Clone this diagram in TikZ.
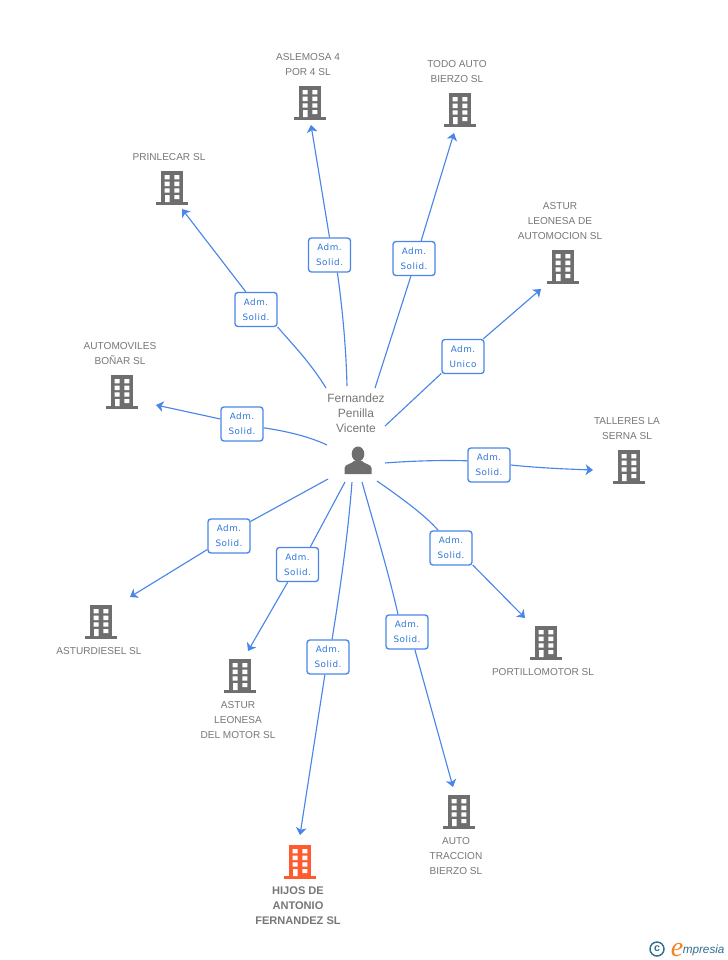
\documentclass[tikz,border=0pt]{standalone}
\usepackage{fontspec}
\setmainfont{Liberation Sans}
\newfontfamily\labfont[LetterSpace=6]{DejaVu Sans}
\newfontfamily\serifit{Liberation Serif}
\usetikzlibrary{arrows.meta,backgrounds,calc}
\definecolor{linkblue}{HTML}{4A86E8}
\definecolor{labelblue}{HTML}{2F76DC}
\definecolor{txtgray}{HTML}{777777}
\definecolor{icongray}{HTML}{6E6E6E}
\definecolor{iconorange}{HTML}{FF5A30}
\definecolor{logoteal}{HTML}{2F6F8F}
\definecolor{logoorange}{HTML}{F58220}
\tikzset{
  x=0.75pt,y=-0.75pt,
  link/.style={draw=linkblue,line width=0.85pt},
  linkarrow/.style={link,-{Stealth[length=5.5pt,width=8pt,inset=1.5pt]}},
  adm/.style={draw=linkblue,line width=1pt,fill=white,rounded corners=2.2pt,minimum width=31.5pt,minimum height=25.5pt,inner sep=0pt,align=center,text=labelblue,font=\labfont\fontsize{6.6}{11.25}\selectfont},
  captxt/.style={align=center,inner sep=0pt,text=txtgray,font=\fontsize{7.55}{11.25}\selectfont},
  boldcap/.style={captxt,font=\bfseries\fontsize{8.3}{11.25}\selectfont},
  hubcap/.style={captxt,font=\fontsize{9}{11.25}\selectfont},
  pics/bldg/.style={code={
    \fill[#1] (-11,-34) rectangle (11,-3);
    \fill[#1] (-16,-3) rectangle (16,0);
    \fill[white] (-7.3,-30) rectangle (-2.3,-25.7) (2.3,-30) rectangle (7.3,-25.7)
      (-7.3,-23.3) rectangle (-2.3,-19) (2.3,-23.3) rectangle (7.3,-19)
      (-7.3,-16.7) rectangle (-2.3,-12.3) (2.3,-16.7) rectangle (7.3,-12.3)
      (-7,-10) rectangle (-2.5,-3) (2.3,-10) rectangle (7.3,-6);
  }},
  pics/personicon/.style={code={
    \fill[icongray] (0,-20) ellipse (6.3 and 7.5);
    \fill[icongray] (-13.5,0) -- (-13.5,-6) .. controls (-13.5,-10) and (-6,-10) .. (-4,-13)
      -- (4,-13) .. controls (6,-10) and (13.5,-10) .. (13.5,-6) -- (13.5,0) -- cycle;
  }}
}
\begin{document}
\begin{tikzpicture}
\useasboundingbox (0,0) rectangle (728,960);
% captions
\node[hubcap] (hubtext) at (356,413) {Fernandez\\Penilla\\Vicente};
\node[captxt] (c1) at (308,65) {ASLEMOSA 4\\POR 4 SL};
\node[captxt] (c2) at (457,72) {TODO AUTO\\BIERZO SL};
\node[captxt] (c3) at (169,157.5) {PRINLECAR SL};
\node[captxt] (c4) at (560,221.5) {ASTUR\\LEONESA DE\\AUTOMOCION SL};
\node[captxt] (c5) at (120,354) {AUTOMOVILES\\BOÑAR SL};
\node[captxt] (c6) at (627,429) {TALLERES LA\\SERNA SL};
\node[captxt] (c7) at (543,672.5) {PORTILLOMOTOR SL};
\node[captxt] (c8) at (99,651.5) {ASTURDIESEL SL};
\node[captxt] (c9) at (238,720.5) {ASTUR\\LEONESA\\DEL MOTOR SL};
\node[captxt] (c10) at (456,856.5) {AUTO\\TRACCION\\BIERZO SL};
\node[boldcap] (c11) at (298,905.5) {HIJOS DE\\ANTONIO\\FERNANDEZ SL};
% icons
\pic at (358,474) {personicon};
\pic at (310,120) {bldg=icongray};
\pic at (460,127) {bldg=icongray};
\pic at (172,205) {bldg=icongray};
\pic at (563,284) {bldg=icongray};
\pic at (122,409) {bldg=icongray};
\pic at (629,484) {bldg=icongray};
\pic at (546,660) {bldg=icongray};
\pic at (101,639) {bldg=icongray};
\pic at (240,693) {bldg=icongray};
\pic at (459,829) {bldg=icongray};
\pic at (300,879) {bldg=iconorange};
% connector labels
\node[adm] (l1) at (329.5,255) {Adm.\\Solid.};
\node[adm] (l2) at (414,258.5) {Adm.\\Solid.};
\node[adm] (l3) at (256,309.5) {Adm.\\Solid.};
\node[adm] (l4) at (463,356.5) {Adm.\\Unico};
\node[adm] (l5) at (242,424) {Adm.\\Solid.};
\node[adm] (l6) at (489,465) {Adm.\\Solid.};
\node[adm] (l7) at (451,548) {Adm.\\Solid.};
\node[adm] (l8) at (229,536) {Adm.\\Solid.};
\node[adm] (l9) at (297.5,564.5) {Adm.\\Solid.};
\node[adm] (l10) at (328,657) {Adm.\\Solid.};
\node[adm] (l11) at (407,632) {Adm.\\Solid.};
% connector ends
\coordinate (s1) at (347,386); \coordinate (t1) at (311,125);
\coordinate (s2) at (375,388); \coordinate (t2) at (454,133);
\coordinate (s3) at (326,388); \coordinate (t3) at (182,209);
\coordinate (s4) at (385,426); \coordinate (t4) at (541,289);
\coordinate (s5) at (327,445); \coordinate (t5) at (156,405);
\coordinate (s6) at (385,463); \coordinate (t6) at (593,470);
\coordinate (s7) at (377,481); \coordinate (t7) at (525,618);
\coordinate (s8) at (328,479); \coordinate (t8) at (130,597);
\coordinate (s9) at (345,482); \coordinate (t9) at (248,651);
\coordinate (s10) at (352,482); \coordinate (t10) at (300,835);
\coordinate (s11) at (362,482); \coordinate (t11) at (453,787);
% connectors
\draw[link] (s1) .. controls (346,345) and (342,305) .. (l1.-66);
\draw[linkarrow] (l1.north) -- (t1);
\draw[link] (s2) -- (l2.-100);
\draw[linkarrow] (l2.68) -- (t2);
\draw[link] (s3) .. controls (310,362) and (293,345) .. (l3.-39);
\draw[linkarrow] (l3.120) -- (t3);
\draw[link] (s4) -- (l4.218);
\draw[linkarrow] (l4.41) -- (t4);
\draw[link] (s5) .. controls (308,436) and (285,431) .. (l5.-10);
\draw[linkarrow] (l5.167) -- (t5);
\draw[link] (s6) .. controls (410,461) and (440,460) .. (l6.169);
\draw[linkarrow] (l6.0) .. controls (540,468) and (565,469) .. (t6);
\draw[link] (s7) .. controls (400,497) and (425,515) .. (l7.126);
\draw[linkarrow] (l7.-38) -- (t7);
\draw[link] (s8) -- (l8.34);
\draw[linkarrow] (l8.212) -- (t8);
\draw[link] (s9) -- (l9.54);
\draw[linkarrow] (l9.241) -- (t9);
\draw[link] (s10) .. controls (348,535) and (340,590) .. (l10.77);
\draw[linkarrow] (l10.260) -- (t10);
\draw[link] (s11) .. controls (374,525) and (388,570) .. (l11.117);
\draw[linkarrow] (l11.-66) -- (t11);
% logo
\node[circle,draw=logoteal,line width=1.1pt,minimum size=10.5pt,inner sep=0pt,text=logoteal,font=\bfseries\fontsize{8}{8}\selectfont] (logoc) at (657,949) {c};
\node[inner sep=0pt,text=logoorange,font=\serifit\itshape\fontsize{21}{21}\selectfont] (logoe) at (677,950) {e};
\node[inner sep=0pt,anchor=west,text=logoteal,font=\itshape\fontsize{8.8}{10}\selectfont] (logot) at (682.5,950) {mpresia};
\end{tikzpicture}
\end{document}
